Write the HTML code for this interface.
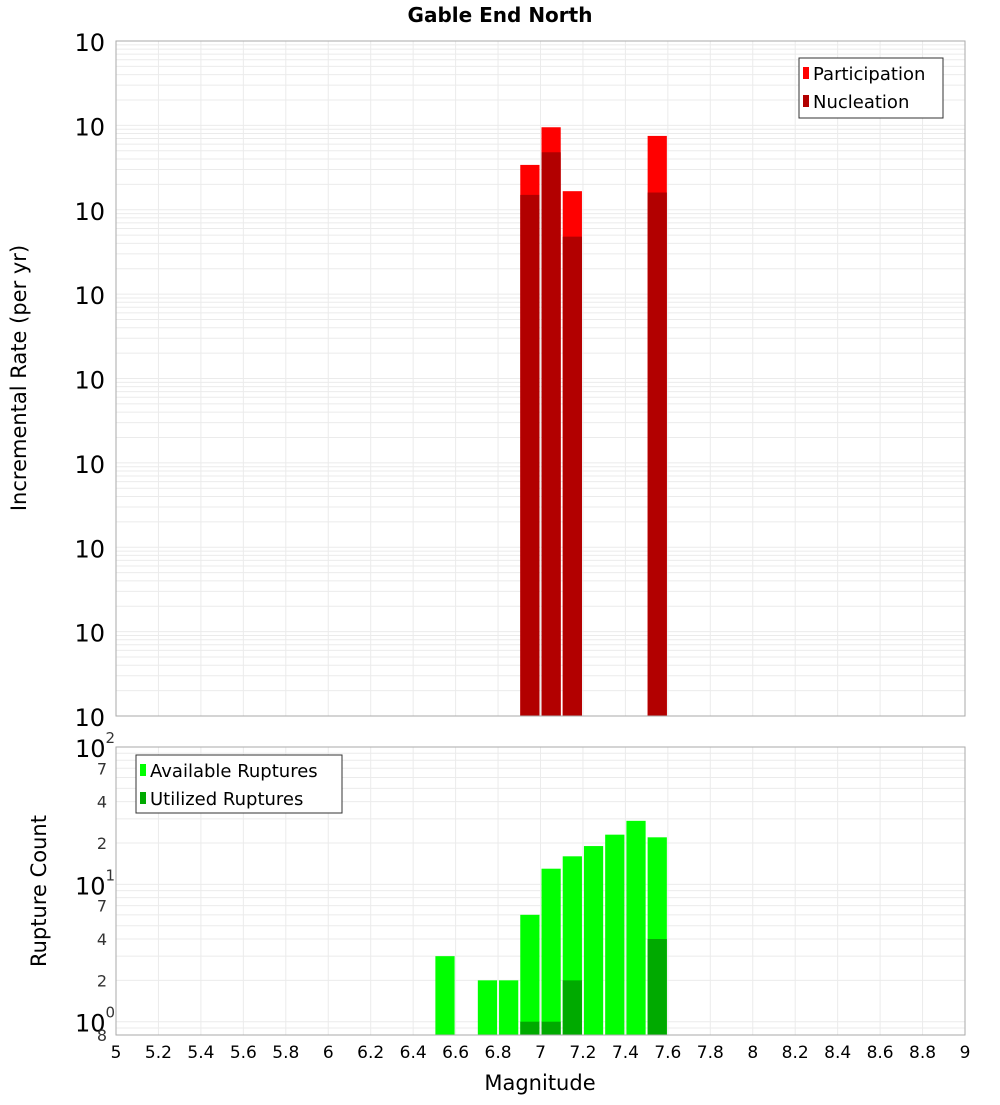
<!DOCTYPE html>
<html><head><meta charset="utf-8"><style>
body{margin:0;background:#fff;width:1000px;height:1100px;overflow:hidden}
svg{font-family:"DejaVu Sans","Liberation Sans",sans-serif}
</style></head><body>
<svg id="c" width="1000" height="1100" xmlns="http://www.w3.org/2000/svg"></svg>
<script>
const mags=[6.95,7.05,7.15,7.55];
const participation=[3.4e-4,9.5e-4,1.66e-4,7.5e-4];
const nucleation=[1.5e-4,4.8e-4,4.8e-5,1.6e-4];
const countMags=[6.55,6.75,6.85,6.95,7.05,7.15,7.25,7.35,7.45,7.55];
const available=[3,2,2,6,13,16,19,23,29,22];
const utilMags=[6.95,7.05,7.15,7.55];
const utilized=[1,1,2,4];
const xTicks=[5,5.2,5.4,5.6,5.8,6,6.2,6.4,6.6,6.8,7,7.2,7.4,7.6,7.8,8,8.2,8.4,8.6,8.8,9];
const topExps=[-2,-3,-4,-5,-6,-7,-8,-9,-10];
const botLabels=[[100,"10","2"],[70,"7"],[40,"4"],[20,"2"],[10,"10","1"],[7,"7"],[4,"4"],[2,"2"],[1,"10","0"],[0.8,"8"]];

const svg=document.getElementById('c');
const NS="http://www.w3.org/2000/svg";
function mk(t,a,p){const e=document.createElementNS(NS,t);for(const k in a)e.setAttribute(k,a[k]);(p||svg).appendChild(e);return e;}
const X0=116,X1=965;
const x=m=>X0+(m-5)/4*(X1-X0);
const T0=41,T1=716;
const yT=v=>T0+(-2-Math.log10(v))/8*(T1-T0);
const B0=747,B1=1035,bMin=Math.log10(0.8);
const yB=v=>B0+(2-Math.log10(v))/(2-bMin)*(B1-B0);

// grids
const g=mk('g',{});


xTicks.forEach(t=>{mk('line',{x1:x(t),x2:x(t),y1:T0,y2:T1,stroke:'#ebebeb'},g);mk('line',{x1:x(t),x2:x(t),y1:B0,y2:B1,stroke:'#ebebeb'},g);});
for(let e=-10;e<-2;e++)for(let k=1;k<10;k++){const y=yT(k*Math.pow(10,e));mk('line',{x1:X0,x2:X1,y1:y,y2:y,stroke:'#ebebeb'},g);}
for(let e=-1;e<2;e++)for(let k=1;k<10;k++){const v=k*Math.pow(10,e);if(v<0.8)continue;const y=yB(v);mk('line',{x1:X0,x2:X1,y1:y,y2:y,stroke:'#ebebeb'},g);}

// top bars
mags.forEach((m,i)=>{
 const r=mk('rect',{x:x(m-0.05)+1,width:x(m+0.05)-x(m-0.05)-2,y:yT(participation[i]),height:T1-yT(participation[i]),fill:'#ff0000'});
 
 
 const n=mk('rect',{x:x(m-0.05)+1,width:x(m+0.05)-x(m-0.05)-2,y:yT(nucleation[i]),height:T1-yT(nucleation[i]),fill:'#b20000'});
 
 
});
countMags.forEach((m,i)=>{
 const r=mk('rect',{x:x(m-0.05)+1,width:x(m+0.05)-x(m-0.05)-2,y:yB(available[i]),height:B1-yB(available[i]),fill:'#00ff00'});
 
 
});
utilMags.forEach((m,i)=>{
 const r=mk('rect',{x:x(m-0.05)+1,width:x(m+0.05)-x(m-0.05)-2,y:yB(utilized[i]),height:B1-yB(utilized[i]),fill:'#00aa00'});
 
 
});
// frames
mk('rect',{x:X0,y:T0,width:X1-X0,height:T1-T0,fill:'none',stroke:'#aaa'});
mk('rect',{x:X0,y:B0,width:X1-X0,height:B1-B0,fill:'none',stroke:'#aaa'});

function txt(s,a,name){const t=mk('text',a);t.textContent=s;return t;}
// top y labels
topExps.forEach(e=>{
 const y=yT(Math.pow(10,e));
 const t=txt('10',{x:105,y:y+10,'font-size':24,'text-anchor':'end',fill:'#000'},'y-tick-label');
 const s=mk('tspan',{dy:-14,'font-size':15});s.textContent=String(e);
});
// fix: superscripts appended after "10" - place labels so superscript sits right
botLabels.forEach(l=>{
 const y=yB(l[0]);
 if(l.length===3){const t=txt('10',{x:75,y:y+10,'font-size':24,fill:'#000'},'y2-tick-label');const s=mk('tspan',{dy:-14,'font-size':15,fill:'#333'},t);s.textContent=l[2];}
 else txt(l[1],{x:107,y:y+6,'font-size':16,'text-anchor':'end',fill:'#333'},'y2-minor-label');
});
xTicks.forEach(t=>txt(String(t),{x:x(t),y:1058,'font-size':17,'text-anchor':'middle',fill:'#000'},'x-tick-label'));
txt('Gable End North',{x:500,y:22,'font-size':20,'font-weight':'bold','text-anchor':'middle'},'chart-title');
txt('Magnitude',{x:540,y:1090,'font-size':21,'text-anchor':'middle'},'x-axis-title');
txt('Incremental Rate (per yr)',{x:0,y:0,'font-size':21,'text-anchor':'middle',transform:'translate(26,378) rotate(-90)'},'y-axis-title');
txt('Rupture Count',{x:0,y:0,'font-size':21,'text-anchor':'middle',transform:'translate(46,891) rotate(-90)'},'y2-axis-title');
// legends
const l1=mk('g',{});
mk('rect',{x:799,y:58,width:144,height:60,fill:'#fff',stroke:'#333'},l1);
mk('rect',{x:803,y:67,width:6,height:12,fill:'#ff0000'},l1);
mk('rect',{x:803,y:95,width:6,height:12,fill:'#b20000'},l1);
txt('Participation',{x:813,y:80,'font-size':18},'legend-participation');
txt('Nucleation',{x:813,y:108,'font-size':18},'legend-nucleation');
const l2=mk('g',{});
mk('rect',{x:136,y:755,width:206,height:58,fill:'#fff',stroke:'#333'},l2);
mk('rect',{x:140,y:764,width:6,height:12,fill:'#00ff00'},l2);
mk('rect',{x:140,y:792,width:6,height:12,fill:'#00aa00'},l2);
txt('Available Ruptures',{x:150,y:777,'font-size':18},'legend-available');
txt('Utilized Ruptures',{x:150,y:805,'font-size':18},'legend-utilized');
</script>
</body></html>
